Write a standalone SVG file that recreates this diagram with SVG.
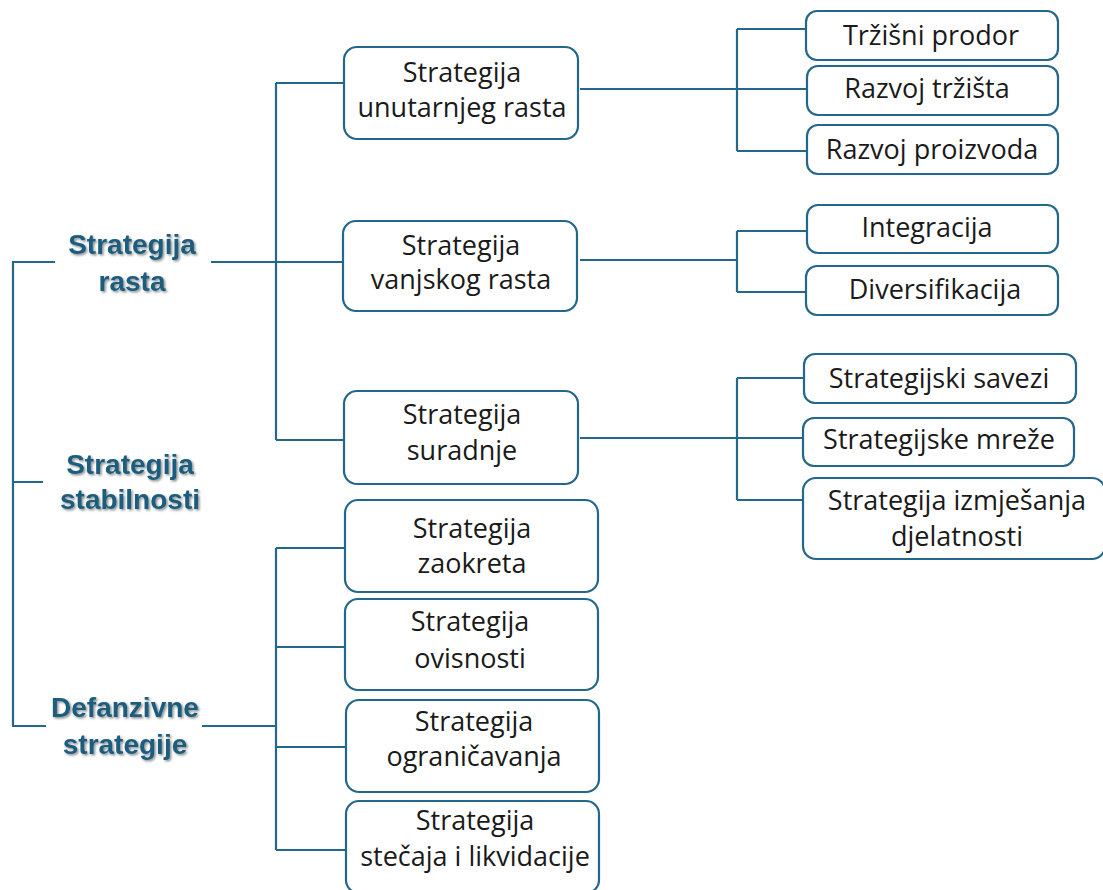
<svg xmlns="http://www.w3.org/2000/svg" width="1103" height="890" viewBox="0 0 1103 890">
<defs>
<style>
.box{fill:#fff;stroke:#23678a;stroke-width:2.2}
.ln{fill:none;stroke:#23678a;stroke-width:2.2}
.t{font-family:"Open Sans","Liberation Sans",sans-serif;font-size:27px;fill:#1a1a1a;text-anchor:middle}
.h{font-family:"Liberation Sans",Arial,sans-serif;font-weight:bold;font-size:28px;fill:#1d5d7e;text-anchor:middle}
</style>
<filter id="sh" x="-10%" y="-20%" width="130%" height="150%">
<feDropShadow dx="1.5" dy="1.5" stdDeviation="1.2" flood-color="#000" flood-opacity="0.45"/>
</filter>
</defs>
<rect width="1103" height="890" fill="#fff"/>
<g id="connectors">
<path class="ln" d="M55 262H13V726H46M13 482H43"/>
<path class="ln" d="M211 262H345M276 83V440M276 83H345M276 440H345"/>
<path class="ln" d="M202 726H276M276 548V850M276 548H345M276 647H345M276 747H346M276 850H346"/>
<path class="ln" d="M580 89H737M737 29V151M737 29H807M737 89H807M737 151H807"/>
<path class="ln" d="M580 260H737M737 231V292M737 231H807M737 292H806"/>
<path class="ln" d="M580 438H737M737 378V500M737 378H804M737 438H803M737 500H803"/>
</g>
<g id="n-rasta" filter="url(#sh)"><text class="h" x="132" y="254">Strategija</text><text class="h" x="132" y="291">rasta</text></g>
<g id="n-stabilnosti" filter="url(#sh)"><text class="h" x="130" y="474">Strategija</text><text class="h" x="130" y="509">stabilnosti</text></g>
<g id="n-defanzivne" filter="url(#sh)"><text class="h" x="125" y="717">Defanzivne</text><text class="h" x="125" y="754">strategije</text></g>

<g id="n-unutarnji"><rect class="box" x="344" y="47" width="234" height="92" rx="13"/><text class="t" x="462" y="82">Strategija</text><text class="t" x="462" y="117">unutarnjeg rasta</text></g>
<g id="n-vanjski"><rect class="box" x="343" y="221" width="234" height="90" rx="13"/><text class="t" x="461" y="255">Strategija</text><text class="t" x="461" y="289">vanjskog rasta</text></g>
<g id="n-suradnja"><rect class="box" x="344" y="391" width="234" height="93" rx="13"/><text class="t" x="462" y="424">Strategija</text><text class="t" x="462" y="460">suradnje</text></g>

<g id="n-trzisni"><rect class="box" x="806" y="11" width="252" height="49" rx="11"/><text class="t" x="931" y="45">Tržišni prodor</text></g>
<g id="n-razvojt"><rect class="box" x="807" y="66" width="251" height="49" rx="11"/><text class="t" x="927" y="98">Razvoj tržišta</text></g>
<g id="n-razvojp"><rect class="box" x="807" y="125" width="251" height="49" rx="11"/><text class="t" x="932" y="159">Razvoj proizvoda</text></g>
<g id="n-integracija"><rect class="box" x="807" y="205" width="251" height="48" rx="11"/><text class="t" x="927" y="237">Integracija</text></g>
<g id="n-diversifikacija"><rect class="box" x="806" y="266" width="252" height="49" rx="11"/><text class="t" x="935" y="299">Diversifikacija</text></g>
<g id="n-savezi"><rect class="box" x="804" y="354" width="272" height="49" rx="11"/><text class="t" x="939" y="388">Strategijski savezi</text></g>
<g id="n-mreze"><rect class="box" x="803" y="418" width="271" height="48" rx="11"/><text class="t" x="939" y="449">Strategijske mreže</text></g>
<g id="n-izmjesanje"><rect class="box" x="803" y="478" width="302" height="81" rx="13"/><text class="t" x="957" y="510">Strategija izmješanja</text><text class="t" x="957" y="546">djelatnosti</text></g>

<g id="n-zaokret"><rect class="box" x="345" y="500" width="253" height="92" rx="13"/><text class="t" x="472" y="538">Strategija</text><text class="t" x="472" y="573">zaokreta</text></g>
<g id="n-ovisnost"><rect class="box" x="345" y="599" width="253" height="91" rx="13"/><text class="t" x="470" y="631">Strategija</text><text class="t" x="470" y="668">ovisnosti</text></g>
<g id="n-ogranicavanje"><rect class="box" x="346" y="700" width="253" height="92" rx="13"/><text class="t" x="474" y="731">Strategija</text><text class="t" x="474" y="766">ograničavanja</text></g>
<g id="n-stecaj"><rect class="box" x="346" y="801" width="253" height="92" rx="13"/><text class="t" x="475" y="830">Strategija</text><text class="t" x="475" y="866">stečaja i likvidacije</text></g>
</svg>
